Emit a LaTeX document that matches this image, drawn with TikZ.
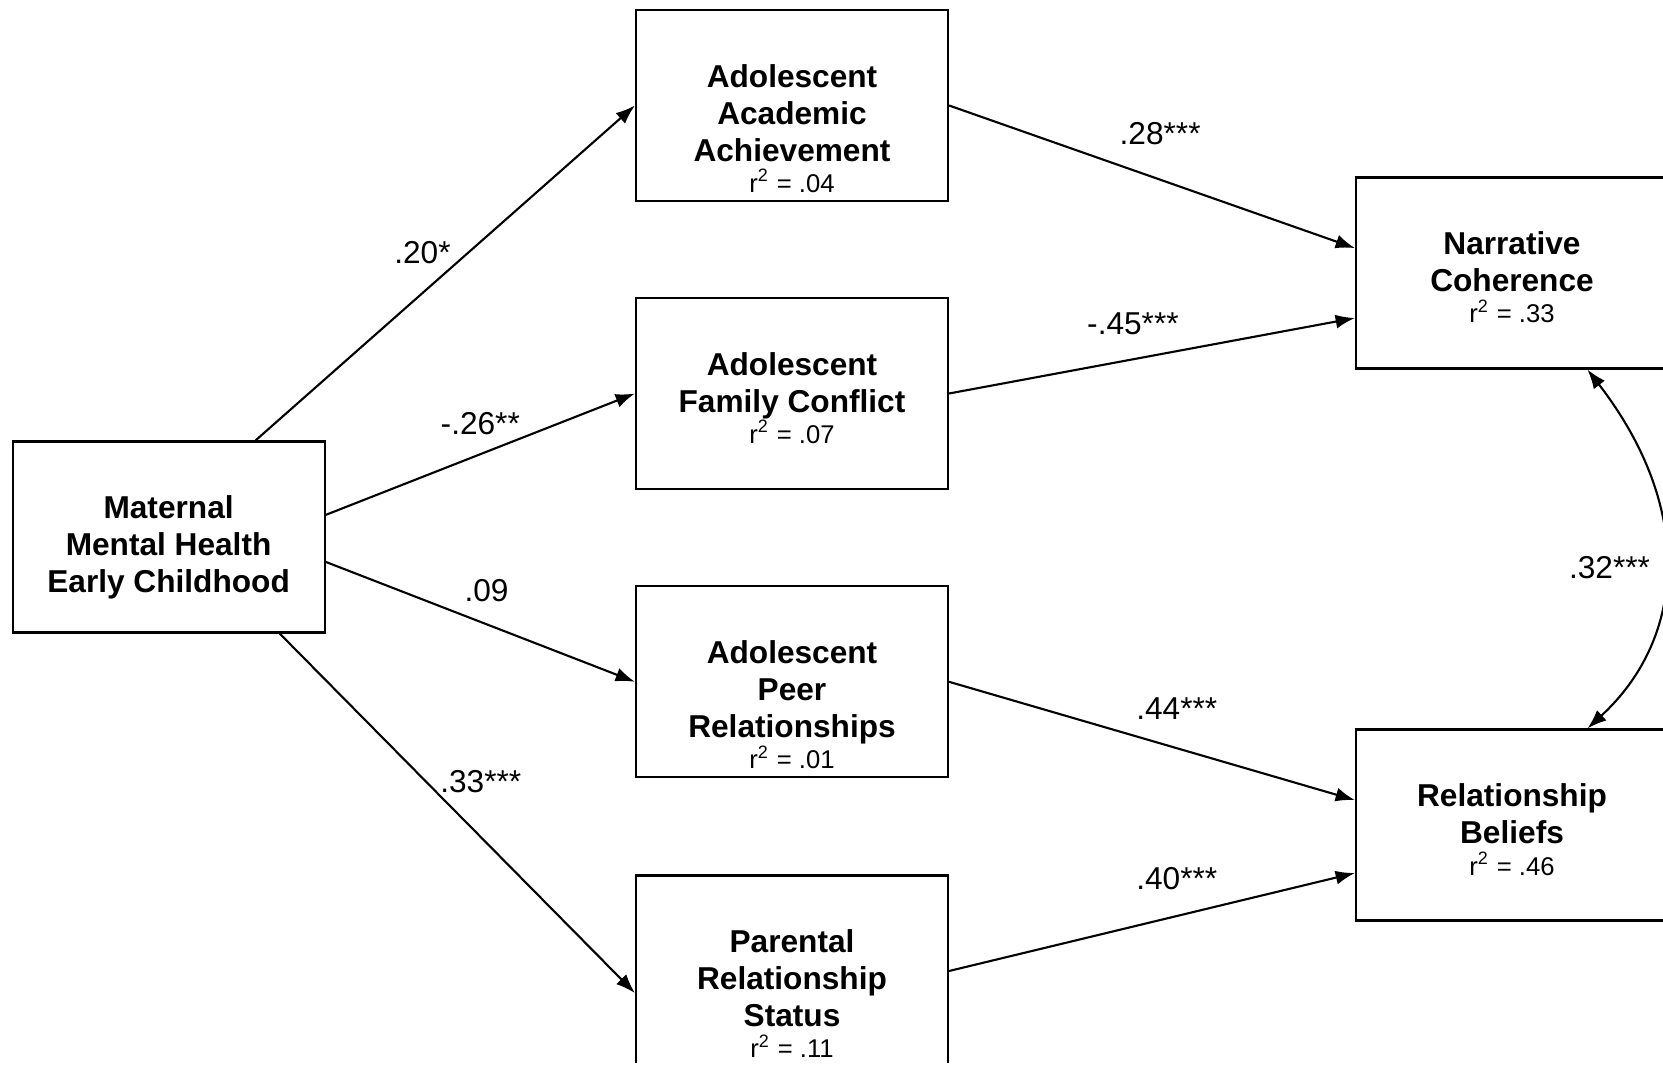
\documentclass[tikz,border=0pt]{standalone}
\usepackage{fontspec}
\setmainfont{Liberation Sans}
\usepackage{tikz}
\usetikzlibrary{arrows.meta}

\newcommand{\vartext}[2]{\parbox[c][1.91cm][t]{3.12cm}{\centering\rule{0pt}{22pt}#1\\[-1.6pt]{\mdseries\fontsize{7.3}{8}\selectfont #2}}}

\begin{document}
\begin{tikzpicture}[var/.style={draw,line width=0.6pt,inner sep=0pt,font=\bfseries\fontsize{9}{10.5}\selectfont}]
		\useasboundingbox (0,0) rectangle (16.63,10.65);
		\clip (0,0.03) rectangle (16.63,10.65);
		\node[var] (M) at (1.686,5.28) {\vartext{Maternal\\Mental Health\\Early Childhood}{}};
		\node[var] (A1) at (7.92,9.595) {\vartext{Adolescent\\Academic\\Achievement}{r\textsuperscript{2} = .04}};
		\node[var] (A2) at (7.92,6.715) {\vartext{Adolescent\\Family Conflict}{r\textsuperscript{2} = .07}};
		\node[var] (A3) at (7.92,3.832) {\vartext{Adolescent\\Peer\\Relationships}{r\textsuperscript{2} = .01}};
		\node[var] (A4) at (7.92,0.94) {\vartext{Parental\\Relationship\\Status}{r\textsuperscript{2} = .11}};
		\node[var] (N) at (15.12,7.92) {\vartext{Narrative\\Coherence}{r\textsuperscript{2} = .33}};
		\node[var] (B) at (15.12,2.40) {\vartext{Relationship\\Beliefs}{r\textsuperscript{2} = .46}};
				%
		\path[->,line width=0.6pt,font=\fontsize{9}{10.8}\selectfont,>={Latex[length=5.5pt,width=4pt]}]
		(M.48.9) edge node[pos=.44,yshift=0.4cm]{.20*} (A1.west)
		(M.8.75) edge node[pos=.5,yshift=0.31cm]{-.26**} (A2.west)
		(M.-9.1) edge node[pos=.52,yshift=0.34cm]{.09} (A3.west)
		(M.-41.3) edge node[pos=.566,yshift=0.55cm]{.33***} (A4.188.6)
		(A1.east) edge node[pos=.52,yshift=0.46cm]{.28***} (N.171.6)
		(A2.east) edge node[pos=.453,yshift=0.36cm]{-.45***} (N.196.8)
		(A3.east) edge node[pos=.561,yshift=0.4cm]{.44***} (B.171.2)
		(A4.east) edge node[pos=.561,yshift=0.37cm]{.40***} (B.197.5);
		\draw[<->,line width=0.6pt,font=\fontsize{9}{10.8}\selectfont,>={Latex[length=5.5pt,width=4pt]}]
		(N.-52.9) .. controls +(1.08,-1.4) and +(0.98,0.9) .. (B.52.8) node[pos=.5,left,xshift=-0.02cm]{.32***};
	\end{tikzpicture}
\end{document}
